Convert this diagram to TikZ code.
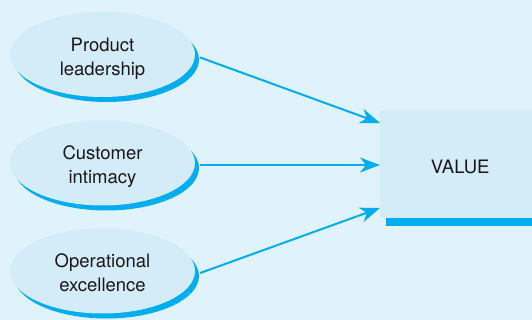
\documentclass[tikz,border=0pt]{standalone}
\usepackage{fontspec}
\setmainfont{TeX Gyre Heros}
\usepackage{tikz}
\usetikzlibrary{arrows.meta,shapes.geometric,shadows,positioning}
\definecolor{bgblue}{HTML}{E0F2FB}
\definecolor{paleblue}{HTML}{D4EBF8}
\definecolor{brightcyan}{HTML}{00AEEF}
\definecolor{inkgrey}{HTML}{1A1718}

\begin{document}
\begin{tikzpicture}[x=1pt,y=-1pt,
  driver/.style={ellipse,fill=paleblue,minimum width=185pt,minimum height=85pt,
    align=center,text=inkgrey,font=\fontsize{18.5}{24}\selectfont,
    text height=45.5pt,text depth=4pt,
    general shadow={fill=brightcyan,shadow xshift=4pt,shadow yshift=-5pt}},
  target/.style={rectangle,fill=paleblue,minimum width=160pt,minimum height=108pt,
    text=inkgrey,font=\fontsize{18.5}{24}\selectfont,text height=19pt,text depth=0pt,
    general shadow={fill=brightcyan,shadow xshift=6pt,shadow yshift=-8pt}},
  feed/.style={draw=brightcyan,line width=2pt,
    -{Stealth[length=20pt,width=15pt,inset=6pt]}}]
\fill[bgblue] (0,0) rectangle (532,320);
\useasboundingbox (0,0) rectangle (532,320);
\node[driver] (prod) at (102.5,54.5) {Product\\leadership};
\node[driver] (cust) at (102.5,163) {Customer\\intimacy};
\node[driver] (oper) at (102.5,271) {Operational\\excellence};
\node[target,anchor=west] (val) at (380,164) {VALUE};
\draw[feed] ([xshift=5pt,yshift=-3pt]prod.east) -- ([yshift=41pt]val.west);
\draw[feed] ([xshift=5pt,yshift=-2pt]cust.east) -- ([yshift=-1pt]val.west);
\draw[feed] ([xshift=5pt,yshift=-2pt]oper.east) -- ([yshift=-44pt]val.west);
\end{tikzpicture}
\end{document}
